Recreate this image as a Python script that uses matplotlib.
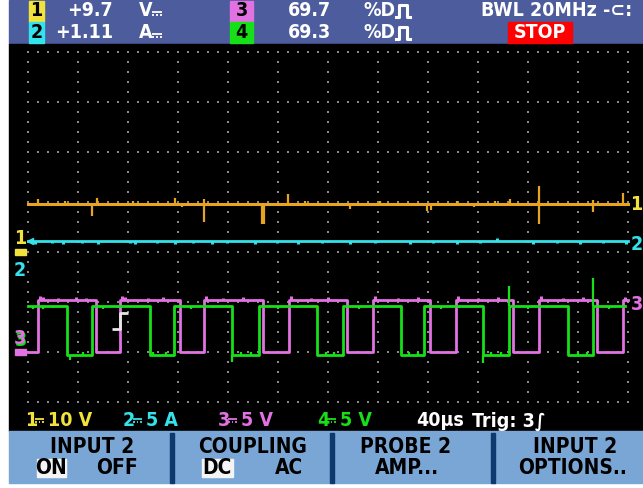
import numpy as np
import matplotlib
matplotlib.use("Agg")
import matplotlib.pyplot as plt
from matplotlib.patches import Rectangle
from matplotlib.path import Path

plt.rcParams['font.family'] = ['DejaVu Sans', 'Noto Sans', 'Noto Sans CJK SC']

# ---- scope settings ----
time_per_div = 40          # us
n_xdiv = 12
ch_scale = {1: 10, 2: 5, 3: 5, 4: 5}     # units per div
ch_ground = {1: 3.0, 2: 3.0, 3: 1.0, 4: 1.0}  # div from bottom grid row

# channel 1 (V) - flat with glitches
ch1_level = 9.7
ch1_glitch_t = [8.0, 29.6, 51.2, 55.2, 84.0, 117.6, 123.2, 140.8, 140.8, 187.2, 188.8, 208.0,
                221.6, 257.6, 281.6, 319.2, 322.4, 343.2, 356.8, 373.6, 385.6, 408.8, 408.8,
                452.0, 452.0, 476.0]
ch1_glitch_dv = [1.0, 0.6, -2.4, 1.2, 0.6, 1.2, -0.6, -3.6, 1.0, -4.0, -4.0, 2.0,
                 0.6, -1.0, 0.6, -1.4, -1.2, 0.6, -0.6, 0.6, 1.0, 3.6, -4.0,
                 -1.6, 0.8, 2.2]

# channel 2 (A) - flat with small notches
ch2_level = 1.11
ch2_notch_t = [5.6, 19.2, 28.0, 43.2, 56.0, 81.6, 85.6, 103.2, 117.6, 132.0, 147.2, 159.2,
               181.6, 199.2, 216.0, 235.2, 257.6, 277.6, 305.6, 324.0, 343.2, 361.6, 375.2,
               404.0, 423.2, 441.6, 460.0, 478.4]
ch2_notch_dv = [-0.3, -0.2, -0.3, -0.2, -0.3, -0.2, -0.3, -0.2, -0.3, -0.2, -0.3, -0.2,
                -0.3, -0.2, -0.3, -0.2, -0.3, -0.2, -0.3, -0.2, -0.3, -0.2, 0.3,
                -0.3, -0.2, -0.3, -0.2, -0.3]

# channel 3 (V) - square wave, starts low
ch3_high, ch3_low = 5.2, 0.0
ch3_edges = [8.0, 54.4, 73.6, 121.6, 140.8, 188.0, 208.8, 255.2, 276.0, 321.6, 342.4,
             388.0, 408.8, 455.2, 476.0]
ch3_glitch_t = [9.6, 12.0, 24.0, 38.4, 46.4, 75.2, 77.6, 96.0, 108.0, 142.4, 156.0, 172.0,
                210.4, 226.4, 240.0, 277.6, 296.0, 312.0, 344.0, 360.0, 376.0, 410.4, 428.0,
                444.0, 477.6]
ch3_glitch_dv = [0.4, 0.3, 0.2, 0.3, 0.2, 0.4, 0.3, 0.2, 0.3, 0.4, 0.2, 0.3,
                 0.4, 0.2, 0.3, 0.4, 0.2, 0.3, 0.4, 0.2, 0.3, 0.4, 0.2,
                 0.3, 0.3]

# channel 4 (V) - square wave, starts high
ch4_high, ch4_low = 4.6, -0.3
ch4_edges = [31.2, 51.2, 97.6, 116.8, 163.2, 184.8, 231.2, 252.0, 298.4, 316.8, 364.0,
             384.8, 432.0, 452.0]
ch4_end = 477.6
ch4_glitch_t = [4.0, 12.0, 20.0, 33.6, 44.0, 60.0, 72.0, 100.0, 110.4, 130.0, 148.0, 163.2,
                170.0, 178.0, 200.0, 215.0, 238.0, 245.0, 265.0, 280.0, 305.0, 312.0, 330.0,
                345.0, 364.0, 370.0, 378.0, 384.8, 400.0, 415.0, 440.0, 447.0, 452.0, 465.0]
ch4_glitch_dv = [-0.3, -0.3, -0.2, -0.5, 0.3, -0.3, -0.2, 0.3, 0.3, -0.3, -0.2, -0.7,
                 0.3, 0.3, -0.3, -0.2, 0.3, 0.3, -0.3, -0.2, 0.3, 0.3, -0.3,
                 -0.2, -0.8, 0.3, 0.3, 2.0, -0.3, -0.2, 0.3, 0.3, 2.8, -0.3]

trig_time = 73.6
trig_level = 3.1  # V on ch3

col = {1: '#e8a420', 2: '#33e2ea', 3: '#e272e2', 4: '#18e018'}
lab = {1: '#f2e23c', 2: '#33e2ea', 3: '#e272e2', 4: '#18e018'}


def to_div(ch, v):
    return ch_ground[ch] + np.asarray(v, dtype=float) / ch_scale[ch]


def square(edges, start_high, hi, lo, t_end):
    t = [0.0]
    v = [hi if start_high else lo]
    for e in edges:
        nxt = lo if v[-1] == hi else hi
        t += [e, e]
        v += [v[-1], nxt]
    t.append(t_end)
    v.append(v[-1])
    return np.array(t), np.array(v)


fig = plt.figure(figsize=(6.43, 4.88), dpi=100)
fig.patch.set_facecolor('white')

# ---- frame / menu (pixel coordinates) ----
ui = fig.add_axes([0, 0, 1, 1])
ui.set_xlim(0, 643)
ui.set_ylim(488, 0)
ui.axis('off')


def dc_sign(x, y, w, c):
    # DC symbol: solid bar over a dashed bar
    ui.plot([x, x + w], [y, y], color=c, lw=1.3, solid_capstyle='butt')
    for k in range(3):
        x0 = x + k * w / 2.5
        ui.plot([x0, x0 + w / 5], [y + 3, y + 3], color=c, lw=1.3, solid_capstyle='butt')


def pulse_sign(x, y, c):
    # pulse / duty-cycle symbol
    ui.plot([x, x + 3, x + 3, x + 11, x + 11, x + 14],
            [y + 6, y + 6, y - 6, y - 6, y + 6, y + 6], color=c, lw=2.2)


ui.add_patch(Rectangle((9, 0), 634, 44, color='#4d5c9c'))
ui.add_patch(Rectangle((9, 44), 634, 387, color='black'))
ui.add_patch(Rectangle((9, 431), 634, 52, color='#7aa6d6'))
for sx in [170, 330, 491]:
    ui.add_patch(Rectangle((sx, 433), 4, 50, color='#0c3a6e'))

big = dict(fontweight='bold', fontsize=14, va='center', fontstretch='condensed')
menu = dict(fontweight='bold', fontsize=15, va='center', fontstretch='condensed')

# top status bar
ui.add_patch(Rectangle((29, 1), 15, 21, color=lab[1]))
ui.add_patch(Rectangle((29, 22), 15, 21, color=lab[2]))
ui.add_patch(Rectangle((230, 1), 23, 21, color=lab[3]))
ui.add_patch(Rectangle((230, 22), 23, 21, color=lab[4]))
ui.text(36.5, 11, '1', ha='center', color='black', **big)
ui.text(36.5, 33, '2', ha='center', color='black', **big)
ui.text(241.5, 11, '3', ha='center', color='black', **big)
ui.text(241.5, 33, '4', ha='center', color='black', **big)
ui.text(113, 11, '+9.7', ha='right', color='white', **big)
ui.text(113, 33, '+1.11', ha='right', color='white', **big)
ui.text(139, 11, 'V', ha='left', color='white', **big)
ui.text(139, 33, 'A', ha='left', color='white', **big)
dc_sign(152, 12, 10, 'white')
dc_sign(152, 34, 10, 'white')
ui.text(331, 11, '69.7', ha='right', color='white', **big)
ui.text(331, 33, '69.3', ha='right', color='white', **big)
ui.text(364, 11, '%D', ha='left', color='white', **big)
ui.text(364, 33, '%D', ha='left', color='white', **big)
pulse_sign(396, 11, 'white')
pulse_sign(396, 33, 'white')
ui.text(481, 11, 'BWL 20MHz -⊂:', ha='left', color='white', **big)
ui.add_patch(Rectangle((508, 22), 64, 21, color='#ff0000'))
ui.text(540, 33, 'STOP', ha='center', color='white', **big)

# bottom channel settings
for ch, x0, rest in [(1, 25, '10 V'), (2, 123, '5 A'), (3, 218, '5 V'), (4, 317, '5 V')]:
    ui.text(x0, 421, str(ch), ha='left', color=lab[ch], **big)
    dc_sign(x0 + 10, 419, 9, lab[ch])
    ui.text(x0 + 23, 421, rest, ha='left', color=lab[ch], **big)
ui.text(416, 421, '40µs', ha='left', color='white', **big)
ui.text(472, 421, 'Trig: 3∫', ha='left', color='white', **big)

# soft key menu
ui.text(92, 447, 'INPUT 2', ha='center', color='black', **menu)
ui.add_patch(Rectangle((37, 459), 29, 18, color='#f4f4f4'))
ui.text(51, 468, 'ON', ha='center', color='black', **menu)
ui.text(117, 468, 'OFF', ha='center', color='black', **menu)
ui.text(253, 447, 'COUPLING', ha='center', color='black', **menu)
ui.add_patch(Rectangle((202, 459), 31, 18, color='#f4f4f4'))
ui.text(217, 468, 'DC', ha='center', color='black', **menu)
ui.text(289, 468, 'AC', ha='center', color='black', **menu)
ui.text(406, 447, 'PROBE 2', ha='center', color='black', **menu)
ui.text(407, 468, 'AMP...', ha='center', color='black', **menu)
ui.text(575, 447, 'INPUT 2', ha='center', color='black', **menu)
ui.text(573, 468, 'OPTIONS..', ha='center', color='black', **menu)

# ---- scope screen (time in us, vertical in divisions) ----
ax = fig.add_axes([9 / 643, 57 / 488, 634 / 643, 387 / 488])
ax.set_facecolor('none')
ax.set_xlim(-15.2, 492)
ax.set_ylim(-0.58, 7.16)
ax.axis('off')

t_end = time_per_div * n_xdiv
gx, gy = [], []
for k in range(n_xdiv + 1):
    ys = np.arange(0, 7.01, 0.2)
    gx += [k * time_per_div] * len(ys)
    gy += list(ys)
for r in range(8):
    xs = np.arange(0, t_end + 0.1, 8)
    gx += list(xs)
    gy += [r] * len(xs)
ax.scatter(gx, gy, s=1.3, marker='s', color='#8a8a8a', linewidths=0, zorder=1)

# channel 1
y1 = to_div(1, ch1_level)
ax.plot([0, t_end], [y1, y1], color=col[1], lw=2.2, zorder=3)
ax.vlines(ch1_glitch_t, y1, to_div(1, ch1_level + np.array(ch1_glitch_dv)),
          color=col[1], lw=1.6, zorder=3)

# channel 2
y2 = to_div(2, ch2_level)
ax.plot([0, t_end], [y2, y2], color=col[2], lw=2.0, zorder=3)
ax.vlines(ch2_notch_t, y2, to_div(2, ch2_level + np.array(ch2_notch_dv)),
          color=col[2], lw=2.2, zorder=3)
ax.plot([1.5], [y2], marker='<', ms=5, color=col[2], zorder=3)

# channel 3
t3, v3 = square(ch3_edges, False, ch3_high, ch3_low, t_end)
ax.plot(t3, to_div(3, v3), color=col[3], lw=2.0, zorder=4)
base3 = np.interp(ch3_glitch_t, t3, v3)
ax.vlines(ch3_glitch_t, to_div(3, base3), to_div(3, base3 + np.array(ch3_glitch_dv)),
          color=col[3], lw=2.2, zorder=4)

# channel 4
t4, v4 = square(ch4_edges, True, ch4_high, ch4_low, ch4_end)
ax.plot(t4, to_div(4, v4), color=col[4], lw=2.0, zorder=5)
base4 = np.interp(ch4_glitch_t, t4, v4, left=ch4_high)
ax.vlines(ch4_glitch_t, to_div(4, base4), to_div(4, base4 + np.array(ch4_glitch_dv)),
          color=col[4], lw=1.6, zorder=5)

# trigger marker
edge = Path([(-1, -1), (0, -1), (0, 1), (1, 1)],
            [Path.MOVETO, Path.LINETO, Path.LINETO, Path.LINETO])
ax.plot([trig_time], [to_div(3, trig_level)], marker=edge, ms=12, mfc='none',
        mec='#e6e6e6', mew=2, zorder=6)

# channel identifiers on screen edges
ui.text(20, 239, '1', ha='center', color=lab[1], **big)
ui.add_patch(Rectangle((15, 249), 11, 6, color=lab[1]))
ui.text(20, 270, '2', ha='center', color=lab[2], **big)
ui.text(21, 340, '3', ha='center', color=lab[4], **big)
ui.text(20, 339, '3', ha='center', color=lab[3], **big)
ui.add_patch(Rectangle((15, 349), 11, 6, color=lab[3]))
ui.text(636, 205, '1', ha='center', color=lab[1], **big)
ui.text(637, 245, '2', ha='center', color=lab[2], **big)
ui.text(637, 304, '3', ha='center', color=lab[3], **big)

fig.savefig('out.png', dpi=100, facecolor='white')
